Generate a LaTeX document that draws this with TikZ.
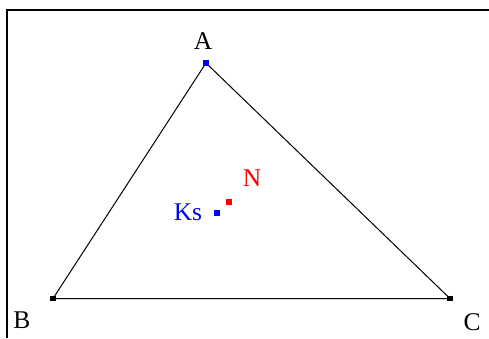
\documentclass[tikz,border=0pt]{standalone}
\usepackage{fontspec}
\setmainfont{Liberation Serif}
\begin{document}
\begin{tikzpicture}[x=1pt,y=-1pt,
  vtx/.style={rectangle,inner sep=0pt,minimum size=5.5pt,fill=#1},
  lbl/.style={inner sep=0pt,font=\fontsize{25.5}{25.5}\selectfont,text=#1},
  edge/.style={draw=black,line width=1pt},
  frameline/.style={draw=black,line width=2.2pt}]
\useasboundingbox (0,0) rectangle (489,338);
\coordinate (f1) at (7,338);
\coordinate (f2) at (7,10);
\coordinate (f3) at (489,10);
\draw[frameline] (f1) -- (f2) -- (f3);
\coordinate (pA) at (206,63);
\coordinate (pB) at (53,298.5);
\coordinate (pC) at (450,298.5);
\draw[edge] (pA) -- (pB) -- (pC) -- cycle;
\node[vtx=blue] (A) at (pA) {};
\node[vtx=black] (B) at (pB) {};
\node[vtx=black] (C) at (pC) {};
\node[vtx=red] (N) at (229,202) {};
\node[vtx=blue] (Ks) at (217,213) {};
\node[lbl=black] (lA) at (203,41) {A};
\node[lbl=black] (lB) at (22,320.5) {B};
\node[lbl=black] (lC) at (472,322) {C};
\node[lbl=red] (lN) at (252,178) {N};
\node[lbl=blue] (lKs) at (188,212.5) {Ks};
\end{tikzpicture}
\end{document}
